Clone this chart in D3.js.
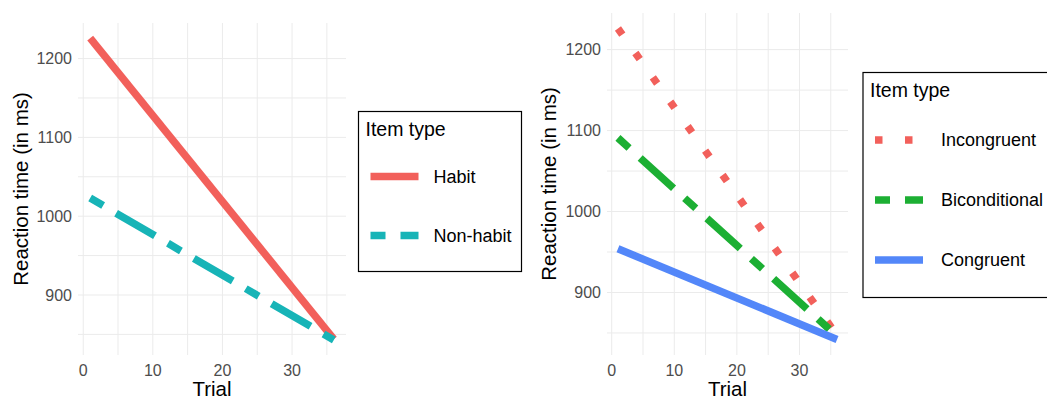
<!DOCTYPE html>
<html>
<head>
<meta charset="utf-8">
<title>Reaction time by trial</title>
<script src="https://cdn.jsdelivr.net/npm/d3@7"></script>
<style>
body { margin: 0; background: #fff; }
svg { font-family: "Liberation Sans", Arial, sans-serif; }
.grid line { stroke: #ebebeb; stroke-width: 1; }
.tick-label { fill: #4d4d4d; font-size: 16px; }
.axis-title { fill: #000; font-size: 20.5px; }
.legend-title { font-size: 19.5px; }
.legend-label { font-size: 18px; }
</style>
</head>
<body>
<script>
// data: predicted reaction time at first and last trial
var trials = [1, 36];
var habitRT = [1226, 844];
var nonHabitRT = [1023, 843];
var incongruentRT = [1226, 847];
var biconditionalRT = [1091, 846];
var congruentRT = [954, 842];

var xTicks = [0, 10, 20, 30];
var xMinor = [5, 15, 25, 35];
var yTicks = [900, 1000, 1100, 1200];
var yMinor = [850, 950, 1050, 1150];

var leftSeries = [
    { name: "Habit", values: habitRT, color: "#f2605b", dash: null },
    { name: "Non-habit", values: nonHabitRT, color: "#17b4b7", dash: "15,15,45,15" }
];
var rightSeries = [
    { name: "Incongruent", values: incongruentRT, color: "#f2605b", dash: "7.5,22.5" },
    { name: "Biconditional", values: biconditionalRT, color: "#1caf33", dash: "15,15,45,15" },
    { name: "Congruent", values: congruentRT, color: "#5387f9", dash: null }
];

var svg = d3.select("body").append("svg")
    .attr("width", 1047)
    .attr("height", 400);

function expand(ext) {
    var pad = (ext[1] - ext[0]) * 0.05;
    return [ext[0] - pad, ext[1] + pad];
}

function drawPanel(series, box) {
    var allY = d3.merge(series.map(function(s) { return s.values; }));
    var x = d3.scaleLinear().domain(expand(d3.extent(trials))).range([box.left, box.right]);
    var y = d3.scaleLinear().domain(expand(d3.extent(allY))).range([box.bottom, box.top]);

    var grid = svg.append("g").attr("class", "grid");
    grid.selectAll(".vx").data(xTicks.concat(xMinor)).enter().append("line")
        .attr("x1", d => x(d)).attr("x2", d => x(d))
        .attr("y1", box.top).attr("y2", box.bottom);
    grid.selectAll(".hy").data(yTicks.concat(yMinor)).enter().append("line")
        .attr("x1", box.left).attr("x2", box.right)
        .attr("y1", d => y(d)).attr("y2", d => y(d));

    svg.append("g").selectAll("text").data(xTicks).enter().append("text")
        .attr("class", "tick-label")
        .attr("x", d => x(d)).attr("y", box.bottom + 21)
        .attr("text-anchor", "middle")
        .text(d => d);
    svg.append("g").selectAll("text").data(yTicks).enter().append("text")
        .attr("class", "tick-label")
        .attr("x", box.left - 6).attr("y", d => y(d))
        .attr("dy", "0.35em")
        .attr("text-anchor", "end")
        .text(d => d);

    svg.append("text").attr("class", "axis-title")
        .attr("x", (box.left + box.right) / 2).attr("y", 396)
        .attr("text-anchor", "middle")
        .text("Trial");
    svg.append("text").attr("class", "axis-title")
        .attr("transform", "translate(" + box.titleX + "," + (box.top + box.bottom) / 2 + ") rotate(-90)")
        .attr("text-anchor", "middle")
        .text("Reaction time (in ms)");

    var line = d3.line()
        .x(function(d, i) { return x(trials[i]); })
        .y(function(d) { return y(d); });

    svg.append("g").selectAll("path").data(series).enter().append("path")
        .attr("d", d => line(d.values))
        .attr("fill", "none")
        .attr("stroke", d => d.color)
        .attr("stroke-width", 7.5)
        .attr("stroke-linecap", "butt")
        .attr("stroke-dasharray", d => d.dash);
}

function drawLegend(series, lg) {
    var g = svg.append("g");
    g.append("rect")
        .attr("x", lg.x).attr("y", lg.y)
        .attr("width", lg.w).attr("height", lg.h)
        .attr("fill", "#fff").attr("stroke", "#000").attr("stroke-width", 1.2);
    g.append("text").attr("class", "legend-title")
        .attr("x", lg.x + 7).attr("y", lg.y + 24)
        .text("Item type");
    var item = g.selectAll(".item").data(series).enter().append("g")
        .attr("transform", (d, i) => "translate(0," + (lg.firstKey + i * lg.step) + ")");
    item.append("line")
        .attr("x1", lg.x + 12).attr("x2", lg.x + 60)
        .attr("y1", 0).attr("y2", 0)
        .attr("stroke", d => d.color)
        .attr("stroke-width", 7.5)
        .attr("stroke-dasharray", d => d.dash);
    item.append("text").attr("class", "legend-label")
        .attr("x", lg.x + lg.labelDx).attr("y", 0)
        .attr("dy", "0.35em")
        .text(d => d.name);
}

drawPanel(leftSeries, { left: 78, right: 346, top: 23, bottom: 355, titleX: 28 });
drawPanel(rightSeries, { left: 607, right: 848, top: 13, bottom: 355, titleX: 556 });

drawLegend(leftSeries, { x: 358.5, y: 111.5, w: 163, h: 160, firstKey: 176.5, step: 59, labelDx: 75 });
drawLegend(rightSeries, { x: 863, y: 72.5, w: 200, h: 225, firstKey: 140, step: 60, labelDx: 78 });
</script>
</body>
</html>
